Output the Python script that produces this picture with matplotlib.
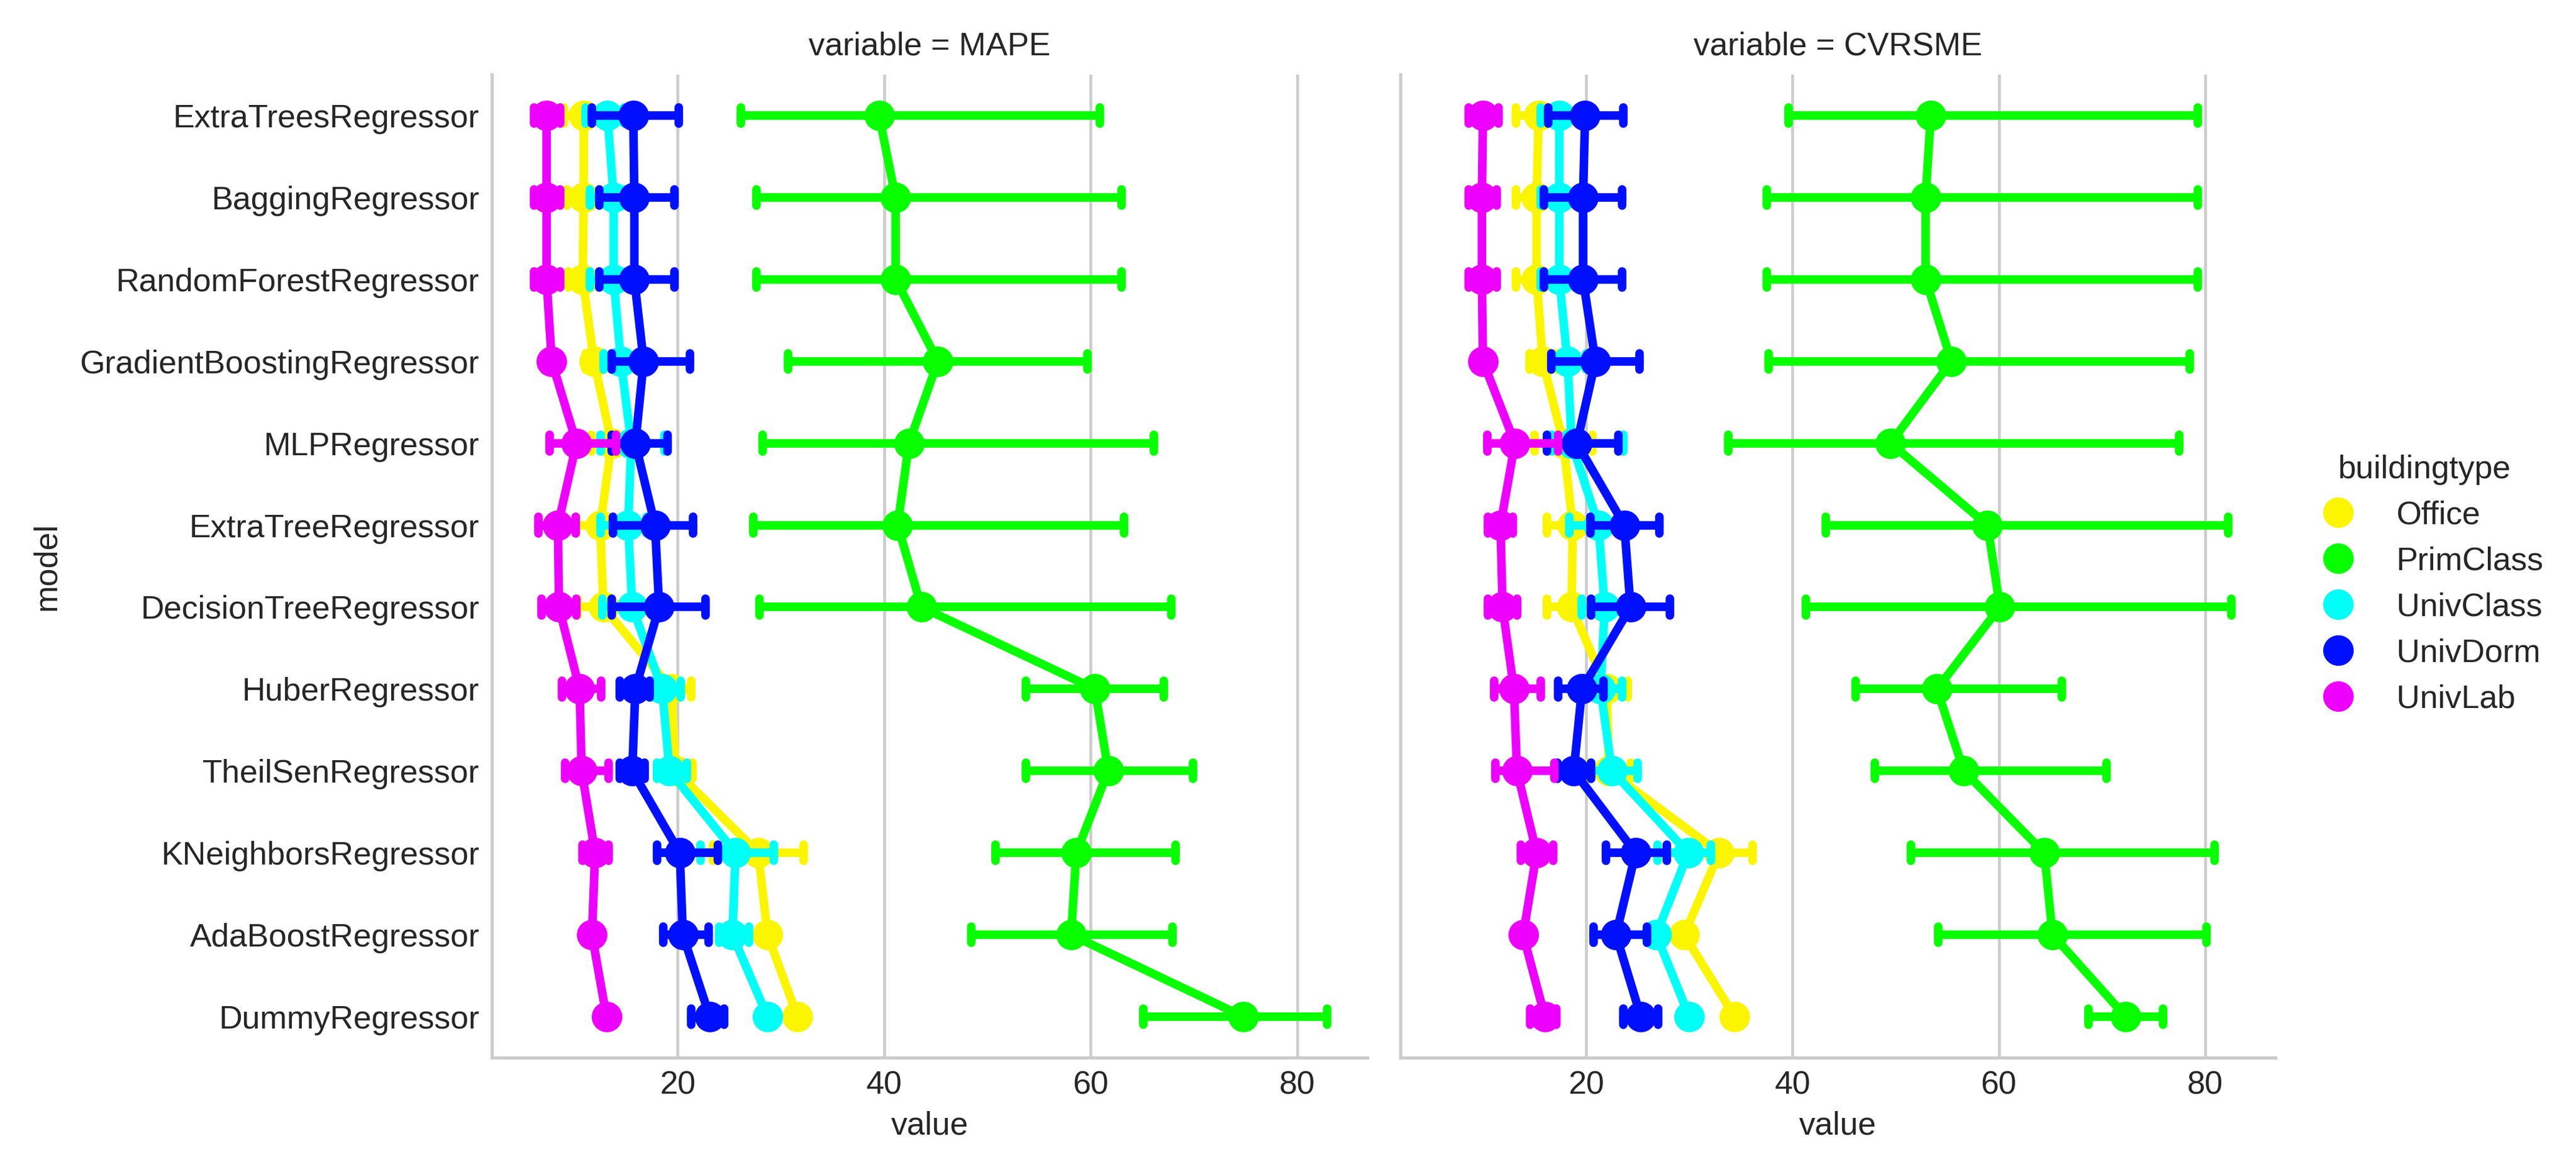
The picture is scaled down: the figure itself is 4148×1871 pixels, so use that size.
import numpy as np
import matplotlib
matplotlib.use("Agg")
import matplotlib.pyplot as plt
from matplotlib.lines import Line2D
import seaborn as sns

models = ["ExtraTreesRegressor", "BaggingRegressor", "RandomForestRegressor",
          "GradientBoostingRegressor", "MLPRegressor", "ExtraTreeRegressor",
          "DecisionTreeRegressor", "HuberRegressor", "TheilSenRegressor",
          "KNeighborsRegressor", "AdaBoostRegressor", "DummyRegressor"]
buildingtypes = ["Office", "PrimClass", "UnivClass", "UnivDorm", "UnivLab"]
variables = ["MAPE", "CVRSME"]

# MAPE: mean, lower, upper per building type
mape_office = [10.9, 10.9, 10.8, 11.9, 13.6, 12.5, 12.8, 19.4, 19.8, 27.8, 28.7, 31.6]
mape_office_lo = [9.0, 9.3, 9.4, 11.1, 11.6, 10.2, 10.3, 17.5, 18.0, 23.4, 28.0, 31.0]
mape_office_hi = [12.8, 12.5, 12.4, 12.8, 15.8, 14.8, 15.3, 21.3, 21.4, 32.2, 29.4, 32.2]

mape_prim = [39.5, 41.1, 41.1, 45.2, 42.4, 41.3, 43.6, 60.4, 61.7, 58.6, 58.1, 74.8]
mape_prim_lo = [26.1, 27.6, 27.6, 30.7, 28.2, 27.3, 27.9, 53.7, 53.7, 50.8, 48.4, 65.1]
mape_prim_hi = [60.9, 63.0, 63.0, 59.7, 66.1, 63.2, 67.8, 67.1, 69.9, 68.2, 67.9, 82.9]

mape_uclass = [13.2, 13.8, 13.8, 14.5, 15.5, 15.2, 15.6, 18.5, 19.2, 25.6, 25.3, 28.7]
mape_uclass_lo = [11.1, 11.5, 11.5, 12.8, 12.5, 12.5, 12.7, 17.6, 18.0, 22.2, 24.0, 28.2]
mape_uclass_hi = [14.8, 14.9, 14.9, 16.2, 18.7, 17.0, 17.5, 20.3, 20.9, 29.3, 26.9, 29.2]

mape_dorm = [15.7, 15.8, 15.8, 16.7, 15.9, 17.8, 18.2, 15.9, 15.6, 20.2, 20.5, 23.1]
mape_dorm_lo = [11.7, 12.4, 12.4, 13.6, 13.6, 13.7, 13.6, 14.4, 14.4, 18.0, 18.6, 21.3]
mape_dorm_hi = [20.1, 19.7, 19.7, 21.2, 19.0, 21.5, 22.7, 17.3, 16.8, 23.9, 23.0, 24.5]

mape_lab = [7.3, 7.3, 7.3, 7.8, 10.2, 8.4, 8.5, 10.5, 10.7, 12.0, 11.7, 13.1]
mape_lab_lo = [6.1, 6.1, 6.1, 7.4, 7.6, 6.5, 6.8, 8.8, 9.1, 10.8, 11.3, 12.8]
mape_lab_hi = [8.6, 8.6, 8.6, 8.2, 14.0, 10.1, 10.2, 12.6, 13.3, 13.3, 12.1, 13.4]

# CVRSME
cv_office = [15.4, 15.2, 15.2, 15.8, 17.8, 18.7, 18.6, 22.0, 22.2, 32.9, 29.5, 34.4]
cv_office_lo = [13.2, 13.2, 13.2, 14.5, 15.0, 16.2, 16.2, 20.0, 20.3, 29.7, 28.9, 34.0]
cv_office_hi = [17.6, 17.2, 17.2, 17.1, 20.6, 21.2, 21.0, 24.0, 24.3, 36.1, 30.1, 34.8]

cv_prim = [53.4, 52.9, 52.9, 55.4, 49.5, 58.9, 60.1, 54.0, 56.6, 64.4, 65.2, 72.3]
cv_prim_lo = [39.6, 37.5, 37.5, 37.7, 33.8, 43.2, 41.3, 46.1, 48.0, 51.5, 54.1, 68.7]
cv_prim_hi = [79.3, 79.3, 79.3, 78.5, 77.5, 82.2, 82.5, 66.1, 70.4, 80.9, 80.1, 75.9]

cv_uclass = [17.4, 17.4, 17.4, 18.2, 18.6, 21.2, 21.8, 21.4, 22.5, 29.9, 26.8, 30.0]
cv_uclass_lo = [15.6, 15.6, 15.6, 16.6, 16.7, 18.4, 19.6, 20.3, 20.5, 26.9, 26.2, 29.6]
cv_uclass_hi = [19.3, 19.3, 19.3, 20.0, 23.6, 24.0, 24.0, 23.5, 25.0, 32.1, 27.4, 30.4]

cv_dorm = [19.9, 19.7, 19.7, 20.9, 19.1, 23.7, 24.3, 19.6, 18.8, 24.8, 22.9, 25.3]
cv_dorm_lo = [16.3, 15.9, 15.9, 16.6, 16.2, 20.4, 20.5, 17.3, 17.2, 21.9, 20.7, 23.6]
cv_dorm_hi = [23.6, 23.5, 23.5, 25.2, 23.1, 27.1, 28.1, 21.7, 20.5, 27.8, 25.9, 27.0]

cv_lab = [10.0, 9.9, 9.9, 10.0, 13.1, 11.7, 11.9, 13.0, 13.3, 15.2, 13.9, 16.0]
cv_lab_lo = [8.6, 8.6, 8.6, 9.6, 10.4, 10.5, 10.5, 11.1, 11.2, 13.7, 13.5, 14.6]
cv_lab_hi = [11.5, 11.3, 11.3, 10.4, 17.3, 12.9, 13.3, 15.6, 16.9, 16.8, 14.3, 17.1]

data = {
    "MAPE": [(mape_office, mape_office_lo, mape_office_hi),
             (mape_prim, mape_prim_lo, mape_prim_hi),
             (mape_uclass, mape_uclass_lo, mape_uclass_hi),
             (mape_dorm, mape_dorm_lo, mape_dorm_hi),
             (mape_lab, mape_lab_lo, mape_lab_hi)],
    "CVRSME": [(cv_office, cv_office_lo, cv_office_hi),
               (cv_prim, cv_prim_lo, cv_prim_hi),
               (cv_uclass, cv_uclass_lo, cv_uclass_hi),
               (cv_dorm, cv_dorm_lo, cv_dorm_hi),
               (cv_lab, cv_lab_lo, cv_lab_hi)],
}

sns.set_style("whitegrid")
plt.rcParams['font.family'] = ['Liberation Sans', 'DejaVu Sans']
fs = 12.5
colors = sns.color_palette("hsv", len(buildingtypes))

W, H = 4148, 1871
fig = plt.figure(figsize=(W / 300, H / 300), dpi=300)
bot = 1 - 1703 / H
top = 1 - 120 / H
ax1 = fig.add_axes([792 / W, bot, (2202 - 792) / W, top - bot])
ax2 = fig.add_axes([2255 / W, bot, (3664 - 2255) / W, top - bot], sharex=ax1, sharey=ax1)

lw = 3.3
ms = 10.8
cap = 0.1
y = np.arange(len(models))

for ax, var in zip([ax1, ax2], variables):
    for k, (mean, lo, hi) in enumerate(data[var]):
        c = colors[k]
        z = 2 + k
        for yi, l, h in zip(y, lo, hi):
            ax.plot([l, h], [yi, yi], color=c, lw=lw, solid_capstyle='round', zorder=z)
            ax.plot([l, l], [yi - cap, yi + cap], color=c, lw=lw, solid_capstyle='round', zorder=z)
            ax.plot([h, h], [yi - cap, yi + cap], color=c, lw=lw, solid_capstyle='round', zorder=z)
        ax.plot(mean, y, color=c, lw=lw, marker='o', ms=ms, mec=c,
                solid_capstyle='round', solid_joinstyle='round', zorder=z)
    ax.set_title(f"variable = {var}", fontsize=fs, color='#262626', pad=7.5)
    ax.set_xlabel("value", fontsize=fs, color='#262626')
    ax.grid(axis='y', visible=False)
    ax.grid(axis='x', color='#cccccc', lw=1.1)
    for s in ['top', 'right']:
        ax.spines[s].set_visible(False)
    for s in ['left', 'bottom']:
        ax.spines[s].set_color('#cccccc')
        ax.spines[s].set_linewidth(1.25)
    ax.tick_params(length=0, labelsize=fs, colors='#262626', pad=4.8)

ax1.set_xlim(2.0, 86.8)
ax1.set_ylim(len(models) - 0.5, -0.5)
ax1.set_yticks(y)
ax1.set_yticklabels(models)
ax1.set_xticks([20, 40, 60, 80])
ax1.set_ylabel("model", fontsize=fs, color='#262626', labelpad=7)
ax2.tick_params(axis='y', labelleft=False)

handles = [Line2D([], [], ls='none', marker='o', ms=ms, color=colors[k])
           for k in range(len(buildingtypes))]
leg = fig.legend(handles, buildingtypes, title="buildingtype", loc='center left',
                 bbox_to_anchor=(3692 / W, 0.497), borderaxespad=0, frameon=False,
                 fontsize=fs, title_fontsize=fs, labelspacing=0.48)
for t in leg.get_texts():
    t.set_color('#262626')
leg.get_title().set_color('#262626')

fig.savefig("out.png", dpi=300)
